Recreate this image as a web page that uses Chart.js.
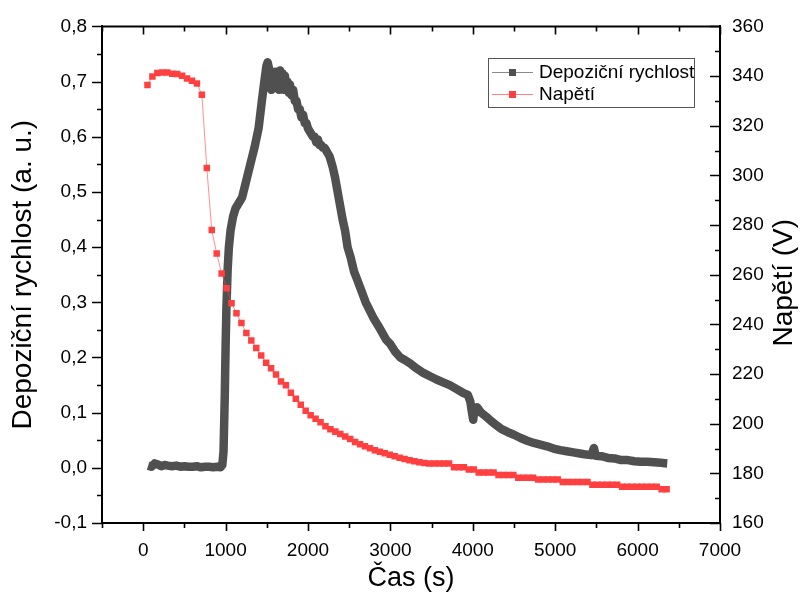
<!DOCTYPE html>
<html>
<head>
<meta charset="utf-8">
<script src="https://cdn.jsdelivr.net/npm/chart.js@4.4.0/dist/chart.umd.min.js"></script>
<style>
html, body { margin: 0; padding: 0; background: #fff; }
#wrap { width: 800px; height: 601px; }
</style>
</head>
<body>
<div id="wrap"><canvas id="graf" width="800" height="601"></canvas></div>
<script>
// Depoziční rychlost (a. u.) vs čas (s)
const casRychlost = [
    60, 100, 140, 180, 220, 260, 300, 350, 400, 450, 500, 550, 600, 650, 700, 750, 800, 850, 900, 940,
    960, 975, 990, 1000, 1010, 1025, 1040, 1060, 1090, 1120, 1160, 1200, 1250, 1300, 1350, 1400, 1440, 1470, 1495, 1510,
    1525, 1540, 1555, 1570, 1585, 1600, 1615, 1630, 1645, 1660, 1675, 1690, 1705, 1720, 1735, 1750, 1765, 1780, 1800, 1820,
    1840, 1860, 1880, 1900, 1920, 1940, 1960, 1980, 2000, 2020, 2040, 2060, 2080, 2100, 2120, 2140, 2160, 2180, 2200, 2220,
    2240, 2260, 2280, 2300, 2330, 2360, 2390, 2420, 2450, 2480, 2520, 2560, 2600, 2650, 2700, 2750, 2800, 2850, 2900, 2950,
    3000, 3060, 3120, 3180, 3250, 3320, 3400, 3480, 3560, 3640, 3720, 3800, 3880, 3940, 3970, 3990, 4005, 4020, 4050, 4100,
    4160, 4220, 4280, 4350, 4420, 4500, 4580, 4660, 4740, 4820, 4900, 4980, 5060, 5140, 5220, 5300, 5380, 5440, 5470, 5490,
    5560, 5640, 5720, 5800, 5880, 5960, 6040, 6120, 6200, 6280, 6360
];
const rychlost = [
    0.004, 0.002, 0.008, 0.006, 0.003, 0.005, 0.004, 0.003, 0.004, 0.002, 0.003, 0.002, 0.002, 0.003, 0.001, 0.002, 0.002, 0.001, 0.002, 0.001,
    0.005, 0.03, 0.13, 0.22, 0.29, 0.36, 0.40, 0.43, 0.455, 0.47, 0.48, 0.49, 0.52, 0.55, 0.58, 0.615, 0.665, 0.70, 0.728, 0.735,
    0.725, 0.70, 0.685, 0.71, 0.695, 0.718, 0.69, 0.71, 0.685, 0.72, 0.695, 0.715, 0.685, 0.71, 0.69, 0.70, 0.68, 0.695, 0.675, 0.685,
    0.665, 0.665, 0.65, 0.65, 0.635, 0.64, 0.625, 0.625, 0.615, 0.61, 0.605, 0.60, 0.60, 0.59, 0.595, 0.585, 0.585, 0.58, 0.58, 0.575,
    0.57, 0.565, 0.555, 0.545, 0.525, 0.50, 0.475, 0.45, 0.43, 0.40, 0.38, 0.355, 0.34, 0.32, 0.30, 0.285, 0.27, 0.258, 0.245, 0.232,
    0.224, 0.21, 0.20, 0.195, 0.188, 0.18, 0.172, 0.166, 0.16, 0.155, 0.15, 0.143, 0.136, 0.132, 0.12, 0.10, 0.087, 0.105, 0.11, 0.10,
    0.093, 0.085, 0.078, 0.07, 0.065, 0.06, 0.054, 0.049, 0.045, 0.042, 0.039, 0.035, 0.032, 0.03, 0.028, 0.026, 0.024, 0.023, 0.036, 0.022,
    0.021, 0.018, 0.017, 0.014, 0.014, 0.012, 0.011, 0.011, 0.01, 0.009, 0.008
];

// Napětí (V) vs čas (s)
const casNapeti = [
    52, 112, 172, 232, 292, 352, 412, 472, 532, 592, 652, 712, 772, 832, 892, 952, 1012, 1072, 1132, 1192,
    1252, 1312, 1372, 1432, 1492, 1552, 1612, 1672, 1732, 1792, 1852, 1912, 1972, 2032, 2092, 2152, 2212, 2272, 2332, 2392,
    2452, 2512, 2572, 2632, 2692, 2752, 2812, 2872, 2932, 2992, 3052, 3112, 3172, 3232, 3292, 3352, 3412, 3472, 3532, 3592,
    3652, 3712, 3772, 3832, 3892, 3952, 4012, 4072, 4132, 4192, 4252, 4312, 4372, 4432, 4492, 4552, 4612, 4672, 4732, 4792,
    4852, 4912, 4972, 5032, 5092, 5152, 5212, 5272, 5332, 5392, 5452, 5512, 5572, 5632, 5692, 5752, 5812, 5872, 5932, 5992,
    6052, 6112, 6172, 6232, 6292, 6352
];
const napeti = [
    336.4, 339.8, 341.2, 341.4, 341.4, 340.9, 340.8, 340.1, 339.0, 338.1, 337.0, 332.5, 303, 278, 268.5, 260.5, 254.5, 248.5, 244.5, 240.5,
    236.5, 233.5, 230.5, 227.5, 224.5, 222.3, 219.8, 217, 215.5, 212.5, 210, 207.6, 205.2, 203.4, 202, 200.6, 199, 197.8, 196.8, 195.8,
    194.8, 193.8, 192.6, 191.7, 190.9, 190.1, 189.3, 188.7, 188.1, 187.5, 186.9, 186.3, 185.8, 185.3, 184.9, 184.5, 184.2, 184, 184, 184,
    184, 184, 182.5, 182.5, 182.5, 181.5, 181.5, 180.3, 180.3, 180.3, 180.3, 179.3, 179.3, 179.3, 179.3, 178.2, 178.2, 178.2, 178.2, 177.5,
    177.5, 177.5, 177.5, 177.5, 176.5, 176.5, 176.5, 176.5, 176.5, 176.5, 175.4, 175.4, 175.4, 175.4, 175.4, 175.4, 174.6, 174.6, 174.6, 174.6,
    174.6, 174.6, 174.6, 174.6, 173.6, 173.6
];

// Popisky os
const xTicks = [0, 1000, 2000, 3000, 4000, 5000, 6000, 7000];
const xMinor = [-500, 500, 1500, 2500, 3500, 4500, 5500, 6500];
const yTicks = [-0.1, 0, 0.1, 0.2, 0.3, 0.4, 0.5, 0.6, 0.7, 0.8];
const yMinor = [-0.05, 0.05, 0.15, 0.25, 0.35, 0.45, 0.55, 0.65, 0.75];
const y2Ticks = [160, 180, 200, 220, 240, 260, 280, 300, 320, 340, 360];
const y2Minor = [170, 190, 210, 230, 250, 270, 290, 310, 330, 350];

const FONT = '"Liberation Sans", Arial, sans-serif';
Chart.defaults.font.family = FONT;
Chart.defaults.color = '#000';

const SEDA = '#505050';
const CERVENA = '#ff4040';

function body(xs, ys) {
    return xs.map((x, i) => ({ x: x, y: ys[i] }));
}

// Carky na osach, horni okraj, titulek prave osy a legenda
const osyPlugin = {
    id: 'osy',
    afterDraw(chart) {
        const ctx = chart.ctx;
        const a = chart.chartArea;
        const sx = chart.scales.x, sy = chart.scales.y, sy2 = chart.scales.y2;
        ctx.save();
        ctx.strokeStyle = '#000';
        ctx.lineWidth = 2;
        ctx.beginPath();
        ctx.moveTo(a.left - 1, a.top);
        ctx.lineTo(a.right + 1, a.top);
        ctx.stroke();

        ctx.lineWidth = 1.6;
        ctx.beginPath();
        const vx = (v, len) => {
            const p = Math.round(sx.getPixelForValue(v)) + 0.5;
            ctx.moveTo(p, a.bottom); ctx.lineTo(p, a.bottom + len);
            ctx.moveTo(p, a.top); ctx.lineTo(p, a.top + len);
        };
        xTicks.forEach(v => vx(v, 8));
        xMinor.forEach(v => vx(v, 5));
        yTicks.forEach(v => {
            const p = Math.round(sy.getPixelForValue(v)) + 0.5;
            ctx.moveTo(a.left, p); ctx.lineTo(a.left - 10, p);
        });
        yMinor.forEach(v => {
            const p = Math.round(sy.getPixelForValue(v)) + 0.5;
            ctx.moveTo(a.left, p); ctx.lineTo(a.left - 5, p);
        });
        y2Ticks.forEach(v => {
            const p = Math.round(sy2.getPixelForValue(v)) + 0.5;
            ctx.moveTo(a.right, p); ctx.lineTo(a.right - 10, p);
        });
        y2Minor.forEach(v => {
            const p = Math.round(sy2.getPixelForValue(v)) + 0.5;
            ctx.moveTo(a.right, p); ctx.lineTo(a.right - 5, p);
        });
        ctx.stroke();

        // titulek prave osy (cte se zdola nahoru)
        ctx.save();
        ctx.translate(784, (a.top + a.bottom) / 2 + 8);
        ctx.rotate(-Math.PI / 2);
        ctx.font = '28px ' + FONT;
        ctx.fillStyle = '#000';
        ctx.textAlign = 'center';
        ctx.textBaseline = 'middle';
        ctx.fillText('Napětí (V)', 0, 0);
        ctx.restore();

        // legenda
        const lx = 488, ly = 58, lw = 206, lh = 49;
        ctx.lineWidth = 1;
        ctx.strokeStyle = '#555';
        ctx.strokeRect(lx + 0.5, ly + 0.5, lw, lh);
        const polozky = [
            { text: chart.data.datasets[1].label, linka: '#8a8a8a', bod: SEDA, y: 72 },
            { text: chart.data.datasets[0].label, linka: '#ff8080', bod: CERVENA, y: 94 }
        ];
        polozky.forEach(p => {
            ctx.strokeStyle = p.linka;
            ctx.beginPath();
            ctx.moveTo(492, p.y + 0.5); ctx.lineTo(533, p.y + 0.5);
            ctx.stroke();
            ctx.fillStyle = p.bod;
            ctx.fillRect(509, p.y - 3, 7, 7);
            ctx.fillStyle = '#000';
            ctx.font = '19px ' + FONT;
            ctx.textAlign = 'left';
            ctx.textBaseline = 'middle';
            ctx.fillText(p.text, 539, p.y + 1);
        });
        ctx.restore();
    }
};

const ctx = document.getElementById('graf').getContext('2d');
const graf = new Chart(ctx, {
    type: 'line',
    data: {
        datasets: [{
            label: 'Napětí',
            data: body(casNapeti, napeti),
            yAxisID: 'y2',
            order: 0,
            borderColor: 'rgba(255, 70, 70, 0.6)',
            borderWidth: 1,
            pointStyle: 'rect',
            pointRadius: 4.6,
            pointBackgroundColor: CERVENA,
            pointBorderWidth: 0,
            tension: 0
        }, {
            label: 'Depoziční rychlost',
            data: body(casRychlost, rychlost),
            yAxisID: 'y',
            order: 1,
            borderColor: SEDA,
            borderWidth: 8.5,
            borderJoinStyle: 'round',
            pointRadius: 0,
            tension: 0
        }]
    },
    options: {
        responsive: false,
        animation: false,
        devicePixelRatio: 1,
        layout: { padding: { top: 24, left: 0, right: 0, bottom: 0 } },
        plugins: {
            legend: { display: false },
            tooltip: { enabled: false }
        },
        scales: {
            x: {
                type: 'linear',
                min: -500,
                max: 7000,
                afterBuildTicks: s => { s.ticks = xTicks.map(v => ({ value: v })); },
                afterFit: s => { s.height = 78; },
                grid: { display: false, drawTicks: false },
                border: { display: true, color: '#000', width: 2 },
                ticks: { font: { size: 19 }, color: '#000', padding: 16, maxRotation: 0, callback: v => String(v) },
                title: { display: true, text: 'Čas (s)', font: { size: 27 }, color: '#000', padding: { top: 0, bottom: 6 } }
            },
            y: {
                position: 'left',
                min: -0.1,
                max: 0.8,
                afterBuildTicks: s => { s.ticks = yTicks.map(v => ({ value: v })); },
                afterFit: s => { s.width = 102; },
                grid: { display: false, drawTicks: false },
                border: { display: true, color: '#000', width: 2 },
                ticks: {
                    font: { size: 19 }, color: '#000', padding: 15,
                    callback: v => v.toFixed(1).replace('.', ',')
                },
                title: { display: true, text: 'Depoziční rychlost (a. u.)', font: { size: 28 }, color: '#000', padding: { top: 6, bottom: 0 } }
            },
            y2: {
                position: 'right',
                min: 160,
                max: 360,
                afterBuildTicks: s => { s.ticks = y2Ticks.map(v => ({ value: v })); },
                afterFit: s => { s.width = 80; },
                grid: { display: false, drawTicks: false },
                border: { display: true, color: '#000', width: 2 },
                ticks: { font: { size: 19 }, color: '#000', padding: 12 },
                title: { display: false }
            }
        }
    },
    plugins: [osyPlugin]
});
</script>
</body>
</html>
